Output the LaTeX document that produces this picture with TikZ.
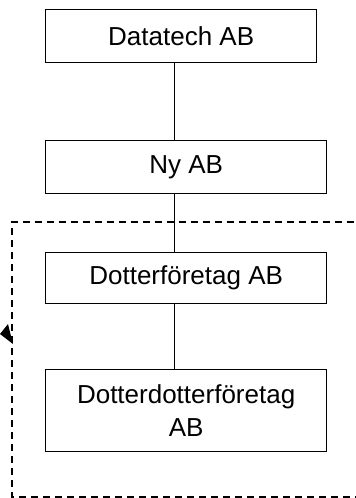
\documentclass[tikz,border=0pt]{standalone}
\usepackage{fontspec}
\setmainfont{Liberation Sans}
\usetikzlibrary{arrows.meta}
\begin{document}
\begin{tikzpicture}[x=1pt,y=-1pt,
  box/.style={draw, line width=1.3pt, minimum height=53pt, inner sep=0pt, align=center,
    font=\fontsize{26}{33}\selectfont, anchor=north west},
  conn/.style={line width=1pt},
  grp/.style={line width=1.2pt, dash pattern=on 7pt off 5pt}]
\useasboundingbox (0,0) rectangle (356,498);
\clip (0,0) rectangle (356,498);
\node[box, minimum width=271pt] (a) at (45,9) {Datatech AB};
\node[box, minimum width=281pt] (b) at (45,140) {Ny AB};
\node[box, minimum width=281pt, minimum height=51pt] (c) at (45,252) {Dotterföretag AB};
\node[box, minimum width=281pt, minimum height=82pt] (d) at (45,369) {Dotterdotterföretag\\AB};
\coordinate (a1) at (174,62);
\coordinate (b0) at (174,140);
\coordinate (b1) at (174,193);
\coordinate (c0) at (174,252);
\coordinate (c1) at (174,303);
\coordinate (d0) at (174,369);
\draw[conn] (a1) -- (b0);
\draw[conn] (b1) -- (c0);
\draw[conn] (c1) -- (d0);
\coordinate (g1) at (366,222);
\coordinate (g2) at (12,222);
\coordinate (g3) at (12,497);
\coordinate (g4) at (366,497);
\draw[grp] (g1) -- (g2) -- (g3) -- (g4);
\coordinate (t0) at (0,334);
\coordinate (t1) at (8,324);
\coordinate (t2) at (13,344);
\fill (t0) -- (t1) -- (t2) -- cycle;
\end{tikzpicture}
\end{document}
